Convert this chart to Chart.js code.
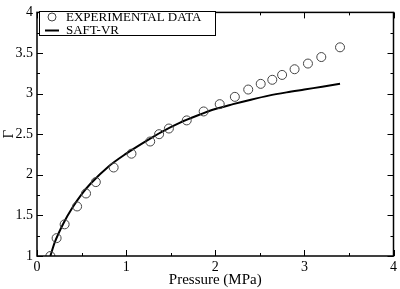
<!DOCTYPE html>
<html>
<head>
<meta charset="utf-8">
<script src="https://cdn.jsdelivr.net/npm/chart.js@4/dist/chart.umd.min.js"></script>
<style>
  html, body { margin: 0; padding: 0; background: #fff; }
  #wrap { width: 400px; height: 289px; }
</style>
</head>
<body>
<div id="wrap"><canvas id="chart"></canvas></div>
<script>
// Experimental data (Pressure in MPa, Gamma)
const expPressure = [0.15, 0.22, 0.31, 0.45, 0.55, 0.66, 0.86, 1.06, 1.27, 1.37, 1.48, 1.68, 1.87, 2.05, 2.22, 2.37, 2.51, 2.64, 2.75, 2.89, 3.04, 3.19, 3.40];
const expGamma    = [1.00, 1.22, 1.39, 1.61, 1.77, 1.91, 2.09, 2.26, 2.41, 2.50, 2.57, 2.67, 2.78, 2.87, 2.96, 3.05, 3.12, 3.17, 3.23, 3.30, 3.37, 3.45, 3.57];

// SAFT-VR curve
const saftPressure = [0.15, 0.2, 0.3, 0.4, 0.5, 0.6, 0.8, 1.0, 1.2, 1.4, 1.6, 1.8, 2.0, 2.2, 2.4, 2.6, 2.8, 3.0, 3.2, 3.4];
const saftGamma    = [1.00, 1.17, 1.41, 1.60, 1.76, 1.89, 2.10, 2.26, 2.40, 2.53, 2.64, 2.73, 2.81, 2.87, 2.925, 2.975, 3.015, 3.05, 3.085, 3.12];

const xTicks = [0, 1, 2, 3, 4];
const yTicks = [1, 1.5, 2, 2.5, 3, 3.5, 4];

const SERIF = '"Liberation Serif", "Times New Roman", serif';

// inward ticks on all four sides + frame + legend box
const gracePlugin = {
    id: 'grace',
    afterDraw(chart) {
        const ctx = chart.ctx;
        const a = chart.chartArea;
        const xs = chart.scales.x, ys = chart.scales.y;
        ctx.save();
        ctx.strokeStyle = '#000';
        ctx.lineWidth = 1;
        ctx.beginPath();
        for (let v = 0; v <= 4.001; v += 0.5) {
            const px = Math.round(xs.getPixelForValue(v)) + 0.5;
            const len = Number.isInteger(v) ? 6 : 3;
            ctx.moveTo(px, a.bottom); ctx.lineTo(px, a.bottom - len);
            ctx.moveTo(px, a.top); ctx.lineTo(px, a.top + len);
        }
        for (let v = 1; v <= 4.001; v += 0.25) {
            const py = Math.round(ys.getPixelForValue(v)) + 0.5;
            const len = (v * 2) % 1 === 0 ? 6 : 3;
            ctx.moveTo(a.left, py); ctx.lineTo(a.left + len, py);
            ctx.moveTo(a.right, py); ctx.lineTo(a.right - len, py);
        }
        ctx.stroke();
        ctx.lineWidth = 1.5;
        ctx.strokeRect(a.left, a.top, a.right - a.left, a.bottom - a.top);

        // legend
        ctx.lineWidth = 1;
        ctx.fillStyle = '#fff';
        ctx.fillRect(39.5, 11.5, 176, 24);
        ctx.strokeRect(39.5, 11.5, 176, 24);
        ctx.strokeStyle = '#444';
        ctx.beginPath();
        ctx.arc(52, 17, 4, 0, Math.PI * 2);
        ctx.stroke();
        ctx.strokeStyle = '#000';
        ctx.lineWidth = 2;
        ctx.beginPath();
        ctx.moveTo(45, 30.5); ctx.lineTo(59, 30.5);
        ctx.stroke();
        ctx.fillStyle = '#000';
        ctx.font = '13px ' + SERIF;
        ctx.textBaseline = 'middle';
        ctx.fillText(chart.data.datasets[0].label, 66, 17.5);
        ctx.fillText(chart.data.datasets[1].label, 66, 30.5);
        ctx.restore();
    }
};

const ctx = document.getElementById('chart').getContext('2d');
const chart = new Chart(ctx, {
    type: 'scatter',
    data: {
        datasets: [
            {
                label: 'EXPERIMENTAL DATA',
                data: expPressure.map((x, i) => ({ x: x, y: expGamma[i] })),
                pointRadius: 4.5,
                pointBorderWidth: 1,
                borderColor: '#444',
                backgroundColor: 'rgba(0,0,0,0)',
                showLine: false
            },
            {
                label: 'SAFT-VR',
                data: saftPressure.map((x, i) => ({ x: x, y: saftGamma[i] })),
                showLine: true,
                borderColor: '#000',
                borderWidth: 2,
                pointRadius: 0,
                cubicInterpolationMode: 'monotone'
            }
        ]
    },
    options: {
        responsive: true,
        maintainAspectRatio: false,
        animation: false,
        layout: { padding: { top: 5, right: 6, left: 0, bottom: 0 } },
        scales: {
            x: {
                type: 'linear',
                min: 0,
                max: 4,
                afterFit: s => { s.height = 33; },
                afterBuildTicks: s => { s.ticks = xTicks.map(v => ({ value: v })); },
                grid: { display: false, drawTicks: false },
                border: { display: false },
                ticks: {
                    color: '#000',
                    padding: 3,
                    font: { family: SERIF, size: 14 },
                    callback: v => String(v)
                },
                title: {
                    display: true,
                    text: 'Pressure (MPa)',
                    color: '#000',
                    padding: { top: 0, bottom: 0 },
                    font: { family: SERIF, size: 15 }
                }
            },
            y: {
                type: 'linear',
                min: 1,
                max: 4,
                afterFit: s => { s.width = 37; },
                afterBuildTicks: s => { s.ticks = yTicks.map(v => ({ value: v })); },
                grid: { display: false, drawTicks: false },
                border: { display: false },
                ticks: {
                    color: '#000',
                    padding: 4,
                    font: { family: SERIF, size: 14 },
                    callback: v => String(v)
                },
                title: {
                    display: true,
                    text: 'Γ',
                    color: '#000',
                    padding: 0,
                    font: { family: SERIF, size: 15 }
                }
            }
        },
        plugins: {
            legend: { display: false },
            tooltip: { enabled: false }
        }
    },
    plugins: [gracePlugin]
});
</script>
</body>
</html>
